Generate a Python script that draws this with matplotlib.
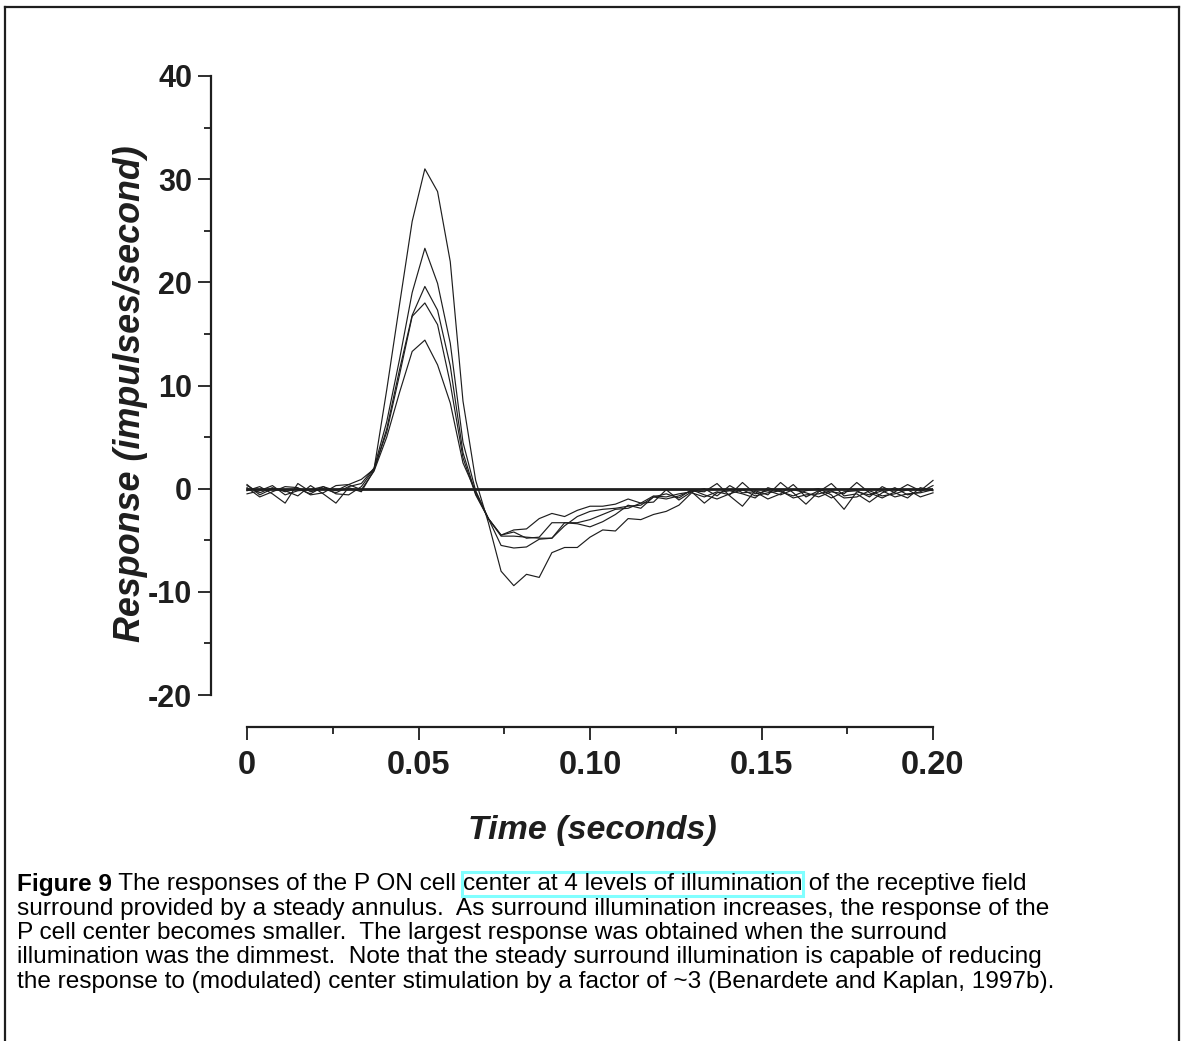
import numpy as np
import matplotlib

matplotlib.use("Agg")
import matplotlib.pyplot as plt
from matplotlib.lines import Line2D
from matplotlib.patches import Rectangle
from matplotlib.ticker import FixedLocator

plt.rcParams["font.family"] = ["Liberation Sans", "DejaVu Sans"]

W, H = 1182, 1041

# sampling grid: 55 bins over 0..0.2 s
TIME = np.linspace(0.0, 0.2, 55)

# responses (impulses/second), one list per surround level, largest response first
RESP_A = [0.3, -0.4, 0.1, -0.3, 0.0, -0.5, 0.2, -0.2, 0.4, 0.9,
          1.9, 9.6, 17.8, 25.9, 31.0, 28.8, 22.0, 8.5, 0.8, -3.3,
          -8.0, -9.4, -8.3, -8.6, -6.2, -5.7, -5.7, -4.7, -4.0, -4.1,
          -2.9, -3.0, -2.5, -2.2, -1.6, -0.4, -0.8, -0.3, -0.6, 0.6,
          -0.5, -0.2, -0.6, -0.1, -0.4, -0.8, -0.3, -0.5, 0.6, -0.4,
          -0.9, -0.3, 0.4, -0.2, 0.8]
RESP_B = [-0.2, 0.2, -0.5, -1.4, 0.5, -0.3, 0.0, -0.4, 0.2, 0.5,
          2.0, 6.5, 12.5, 19.0, 23.3, 19.9, 14.1, 4.5, -0.2, -2.9,
          -5.5, -5.75, -5.65, -4.9, -4.8, -3.3, -3.3, -3.0, -2.5, -2.0,
          -1.9, -1.4, -0.7, -0.8, -0.5, -0.3, -1.4, -0.4, -0.2, -0.5,
          -0.9, 0.1, -0.3, -0.7, -0.2, 0.0, -0.6, -2.0, -0.3, -0.6,
          -0.2, -0.8, -0.5, -0.4, -0.1]
RESP_C = [0.4, -0.6, 0.0, -0.2, -0.7, 0.3, -0.5, -1.4, 0.1, -0.3,
          1.8, 5.8, 11.5, 16.8, 19.6, 17.3, 11.9, 3.5, -0.5, -2.9,
          -4.6, -4.6, -4.7, -4.8, -4.8, -3.6, -2.7, -2.2, -2.0, -1.9,
          -1.7, -1.6, -0.8, -1.0, -0.7, -0.2, -0.3, 0.5, -0.7, -1.7,
          -0.2, -0.6, 0.6, -0.4, -1.5, -0.3, 0.5, -0.7, -0.5, -1.3,
          -0.4, 0.1, -0.6, -0.3, 0.3]
RESP_D = [-0.5, -0.2, 0.3, -0.6, -0.2, -0.1, 0.2, -0.5, -0.6, 0.2,
          1.9, 5.5, 11.0, 16.7, 18.0, 15.9, 10.2, 3.0, -0.6, -2.9,
          -4.5, -4.2, -4.8, -4.7, -3.3, -3.3, -3.4, -3.7, -3.2, -2.5,
          -1.6, -1.9, -0.8, -0.5, -0.9, -0.1, -0.6, -1.0, -0.5, -0.1,
          -0.7, -0.4, -0.2, -0.9, -0.6, -0.5, -0.2, -0.9, -0.8, -0.2,
          -0.7, -0.5, -0.1, -0.8, -0.4]
RESP_E = [0.1, -0.8, -0.3, 0.2, 0.1, -0.6, -0.4, 0.3, 0.4, -0.1,
          1.7, 5.0, 9.3, 13.3, 14.4, 12.0, 8.3, 2.5, -0.3, -2.9,
          -4.5, -4.0, -3.9, -2.9, -2.4, -2.7, -2.1, -1.7, -1.7, -1.5,
          -1.0, -1.4, -1.3, -0.1, -1.1, -0.3, 0.0, -0.7, 0.3, -0.4,
          -0.3, -1.0, -0.5, 0.4, -0.8, -0.2, -0.9, -0.3, -0.2, -0.8,
          0.2, -0.4, -0.9, 0.1, -0.2]
TRACES = [RESP_A, RESP_B, RESP_C, RESP_D, RESP_E]

X_TICKS = [0.0, 0.05, 0.10, 0.15, 0.20]
X_TICK_LABELS = ["0", "0.05", "0.10", "0.15", "0.20"]
X_MINOR = [0.025, 0.075, 0.125, 0.175]
Y_TICKS = [-20, -10, 0, 10, 20, 30, 40]
Y_TICK_LABELS = ["-20", "-10", "0", "10", "20", "30", "40"]
Y_MINOR = [-15, -5, 5, 15, 25, 35]

CAPTION_BOLD = "Figure 9"
CAPTION_1A = " The responses of the P ON cell "
CAPTION_BOXED = "center at 4 levels of illumination"
CAPTION_1B = " of the receptive field"
CAPTION_REST = [
  "surround provided by a steady annulus.  As surround illumination increases, the response of the",
  "P cell center becomes smaller.  The largest response was obtained when the surround",
  "illumination was the dimmest.  Note that the steady surround illumination is capable of reducing",
  "the response to (modulated) center stimulation by a factor of ~3 (Benardete and Kaplan, 1997b).",
]

INK = "#1e1e1e"

fig = plt.figure(figsize=(W / 100, H / 100), dpi=100)
ax = fig.add_axes([211 / W, 1 - 727 / H, (933 - 211) / W, (727 - 76) / H])
ax.set_xlim(-0.0105, 0.2)
ax.set_ylim(-23.1, 40)

for tr in TRACES:
  ax.plot(TIME, tr, color=INK, linewidth=0.85, clip_on=False)
ax.plot([TIME[0], TIME[-1]], [0, 0], color=INK, linewidth=2.0, zorder=3)

for side in ("top", "right"):
  ax.spines[side].set_visible(False)
ax.spines["left"].set_bounds(-20, 40)
ax.spines["bottom"].set_bounds(0, 0.2)
for side in ("left", "bottom"):
  ax.spines[side].set_linewidth(1.6)
  ax.spines[side].set_color(INK)

ax.xaxis.set_major_locator(FixedLocator(X_TICKS))
ax.xaxis.set_minor_locator(FixedLocator(X_MINOR))
ax.set_xticklabels(X_TICK_LABELS)
ax.yaxis.set_major_locator(FixedLocator(Y_TICKS))
ax.yaxis.set_minor_locator(FixedLocator(Y_MINOR))
ax.set_yticklabels(Y_TICK_LABELS)
ax.tick_params(which="major", direction="out", length=9.5, width=1.3, color=INK,
               labelcolor=INK)
ax.tick_params(which="minor", direction="out", length=5, width=1.3, color=INK)
ax.tick_params(axis="y", which="major", pad=4, labelsize=22)
ax.tick_params(axis="x", which="major", pad=7, labelsize=23.5)
for lab in ax.get_xticklabels() + ax.get_yticklabels():
  lab.set_fontweight("bold")

fig.text(592 / W, 1 - 830 / H, "Time (seconds)", ha="center", va="center",
         fontsize=24.5, fontweight="bold", fontstyle="italic", color=INK)
fig.text(131 / W, 1 - 394 / H, "Response (impulses/second)", ha="center", va="center",
         rotation=90, fontsize=25.8, fontweight="bold", fontstyle="italic", color=INK)

# caption, first line built from pieces so the highlighted phrase gets its box
renderer = fig.canvas.get_renderer()
cap_size = 17.6
line_y = [884, 908.5, 933, 957.5, 982]
x = 17
for txt, weight in ((CAPTION_BOLD, "bold"), (CAPTION_1A, "normal"),
                    (CAPTION_BOXED, "normal"), (CAPTION_1B, "normal")):
  t = fig.text(x / W, 1 - line_y[0] / H, txt, ha="left", va="center",
               fontsize=cap_size, fontweight=weight, color="black")
  bb = t.get_window_extent(renderer)
  if txt == CAPTION_BOXED:
    fig.add_artist(Rectangle(((bb.x0 - 1) / W, (bb.y0 - 1) / H),
                             (bb.width + 2) / W, (bb.height + 2) / H,
                             transform=fig.transFigure, fill=False,
                             edgecolor="#80ffff", linewidth=2.2))
  x = bb.x1
for yy, txt in zip(line_y[1:], CAPTION_REST):
  fig.text(17 / W, 1 - yy / H, txt, ha="left", va="center",
           fontsize=cap_size, color="black")

# frame round the figure
for xs, ys in (([4.5, 4.5], [7, H]), ([4.5, 1179], [7, 7]), ([1179, 1179], [7, H])):
  fig.add_artist(Line2D([v / W for v in xs], [1 - v / H for v in ys],
                        transform=fig.transFigure, color=INK, linewidth=1.6))

fig.savefig("out.png", dpi=100)
